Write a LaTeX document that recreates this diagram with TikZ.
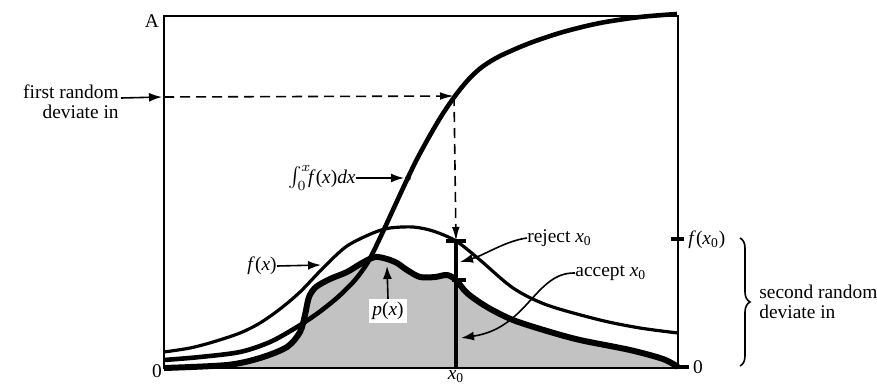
\documentclass[tikz,border=0pt]{standalone}
\usepackage{fontspec}
\setmainfont{Liberation Serif}
\usepackage{tikz}
\usetikzlibrary{arrows.meta, positioning, decorations.pathreplacing}
\tikzstyle{frame} = [line width=0.75pt, draw=black]
\tikzstyle{envelope} = [line width=1.6pt, line join=round]
\tikzstyle{cumul} = [line width=2.3pt, line join=round]
\tikzstyle{density} = [line width=3pt, line join=round]
\tikzstyle{tick} = [line width=1.8pt]
\tikzstyle{arrow} = [line width=0.8pt, -{Latex[length=6.5pt, width=4.5pt]}]
\tikzstyle{guide} = [line width=0.8pt, dash pattern=on 5pt off 3pt, -{Latex[length=7pt, width=3.8pt]}]
\tikzstyle{txt} = [inner sep=0pt, font=\fontsize{9.7pt}{11pt}\selectfont]
\newcommand{\xzero}{\textit{x}\textsubscript{0}}

\begin{document}
\begin{tikzpicture}[x=0.5pt, y=-0.5pt]
        \useasboundingbox (0,0) rectangle (877,386);

        % Sombreado bajo p(x)
        \fill[black!24] plot[smooth] coordinates {(164,368) (227,365) (260,358) (287,347) (300,332) (305,315) (309,297) (316,287) (330,279) (347,272) (362,263) (375,257) (387,259) (397,263) (407,270) (420,277) (435,277) (447,275) (456,280) (467,293) (487,307) (513,320) (547,331) (580,340) (630,350) (663,359) (678,367)} -- (678,368) -- (164,368) -- cycle;

        % Marco
        \draw[frame] (164,16) rectangle (678,368);

        % Curvas
        \draw[envelope] plot[smooth] coordinates {(164,352) (190,348) (213,342) (240,333) (260,323) (280,309) (300,292) (325,266) (347,246) (373,233) (390,228) (413,227) (433,231) (456,241) (480,260) (513,288) (547,305) (600,320) (640,328) (678,333)};
        \draw[cumul] plot[smooth] coordinates {(164,360) (200,357) (240,352) (270,342) (297,327) (318,313) (338,297) (355,280) (368,262) (380,238) (392,212) (404,186) (416,161) (429,137) (442,115) (455,96) (468,80) (482,67) (500,56) (530,43) (563,32) (600,23) (640,17) (677,14)};
        \draw[density] plot[smooth] coordinates {(164,368) (227,365) (260,358) (287,347) (300,332) (305,315) (309,297) (316,287) (330,279) (347,272) (362,263) (375,257) (387,259) (397,263) (407,270) (420,277) (435,277) (447,275) (456,280) (467,293) (487,307) (513,320) (547,331) (580,340) (630,350) (663,359) (678,367)};

        % Puntos
        \coordinate (inA) at (164,97);
        \coordinate (hit) at (454,96);
        \coordinate (fx0) at (456,241);
        \coordinate (px0) at (456,280);
        \coordinate (base0) at (456,368);
        \coordinate (dot) at (408,178);
        \coordinate (fpt) at (321,265);
        \coordinate (ppt) at (387,266);
        \coordinate (rejpt) at (460,262);
        \coordinate (accpt) at (461,338);
        \fill (dot) circle (1.4pt);

        % x0
        \draw[line width=2pt] (fx0) -- (base0);
        \draw[tick] ([xshift=-5pt]fx0) -- ([xshift=5pt]fx0);
        \draw[tick] ([xshift=-2pt]px0) -- ([xshift=5pt]px0);
        \draw[tick] (671,239) -- (684,239);
        \draw[tick] (678,367) -- (689,367);

        % Nodos
        \node[txt] (A) at (152,21) {A};
        \node[txt] (zl) at (157,371) {0};
        \node[txt] (zr) at (698,367) {0};
        \node[txt] (x0) at (456,377) {\xzero};
        \node[txt, anchor=base east] (first) at (119,98) {first random};
        \node[txt, anchor=base east] (firstb) at (119,118) {deviate in};
        \node[txt, anchor=east] (integ) at (356,178) {$\int_0^x\!$\textit{f}(\textit{x})\textit{dx}};
        \node[txt, anchor=east] (flab) at (277,266) {\textit{f}(\textit{x})};
        \node[txt, fill=white, inner sep=1.5pt] (plab) at (388,311) {\textit{p}(\textit{x})};
        \node[txt, anchor=west] (rej) at (527,238) {reject \xzero};
        \node[txt, anchor=west] (acc) at (575,273) {accept \xzero};
        \node[txt, anchor=west] (fx0lab) at (688,240) {\textit{f}(\xzero)};
        \node[txt, anchor=west, align=left] (second) at (759,302) {second random\\[-1pt]deviate in};

        % Conexiones
        \draw[arrow] ([xshift=1pt]first.base east) -- ([xshift=-1pt]inA);
        \draw[guide] (inA) -- (hit);
        \draw[guide] (hit) -- (fx0);
        \draw[arrow, shorten >=2pt] (integ.east) -- (dot);
        \draw[arrow] (flab.east) -- (fpt);
        \draw[arrow] (plab.north) -- (ppt);
        \draw[arrow] (rej.west) .. controls (505,241) and (485,255) .. (rejpt);
        \draw[arrow] (acc.west) .. controls (535,272) and (528,328) .. (accpt);
        \draw[decorate, decoration={brace, amplitude=5pt}, line width=0.8pt] (740,238) -- (740,366);

\end{tikzpicture}
\end{document}
